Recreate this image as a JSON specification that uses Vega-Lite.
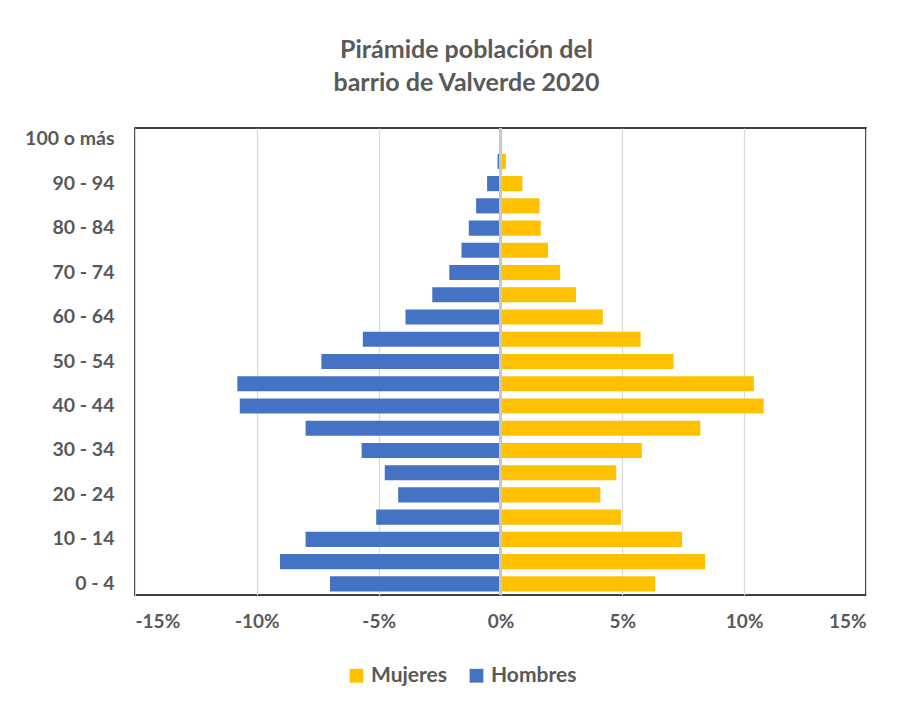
{
  "$schema": "https://vega.github.io/schema/vega-lite/v6.json",
  "width": 731,
  "height": 467,
  "autosize": {"type": "none"},
  "padding": {"left": 135, "top": 128, "right": 34, "bottom": 111},
  "background": "white",
  "title": {
    "text": ["Pirámide población del", "barrio de Valverde 2020"],
    "font": "Lato",
    "fontSize": 25,
    "fontWeight": "bold",
    "color": "#595959",
    "anchor": "middle",
    "dx": -34,
    "offset": 31,
    "lineHeight": 33
  },
  "config": {
    "view": {"stroke": "#000000", "strokeWidth": 1.5},
    "font": "Lato"
  },
  "data": {
    "values": [
      {"edad": "100 o más", "sexo": "Hombres", "pct": -0.02},
      {"edad": "100 o más", "sexo": "Mujeres", "pct": 0.02},
      {"edad": "95 - 99", "sexo": "Hombres", "pct": -0.12},
      {"edad": "95 - 99", "sexo": "Mujeres", "pct": 0.22},
      {"edad": "90 - 94", "sexo": "Hombres", "pct": -0.55},
      {"edad": "90 - 94", "sexo": "Mujeres", "pct": 0.9},
      {"edad": "85 - 89", "sexo": "Hombres", "pct": -1.0},
      {"edad": "85 - 89", "sexo": "Mujeres", "pct": 1.6},
      {"edad": "80 - 84", "sexo": "Hombres", "pct": -1.3},
      {"edad": "80 - 84", "sexo": "Mujeres", "pct": 1.65},
      {"edad": "75 - 79", "sexo": "Hombres", "pct": -1.6},
      {"edad": "75 - 79", "sexo": "Mujeres", "pct": 1.95},
      {"edad": "70 - 74", "sexo": "Hombres", "pct": -2.1},
      {"edad": "70 - 74", "sexo": "Mujeres", "pct": 2.45},
      {"edad": "65 - 69", "sexo": "Hombres", "pct": -2.8},
      {"edad": "65 - 69", "sexo": "Mujeres", "pct": 3.1},
      {"edad": "60 - 64", "sexo": "Hombres", "pct": -3.9},
      {"edad": "60 - 64", "sexo": "Mujeres", "pct": 4.2},
      {"edad": "55 - 59", "sexo": "Hombres", "pct": -5.65},
      {"edad": "55 - 59", "sexo": "Mujeres", "pct": 5.75},
      {"edad": "50 - 54", "sexo": "Hombres", "pct": -7.35},
      {"edad": "50 - 54", "sexo": "Mujeres", "pct": 7.1},
      {"edad": "45 - 49", "sexo": "Hombres", "pct": -10.8},
      {"edad": "45 - 49", "sexo": "Mujeres", "pct": 10.4},
      {"edad": "40 - 44", "sexo": "Hombres", "pct": -10.7},
      {"edad": "40 - 44", "sexo": "Mujeres", "pct": 10.8},
      {"edad": "35 - 39", "sexo": "Hombres", "pct": -8.0},
      {"edad": "35 - 39", "sexo": "Mujeres", "pct": 8.2},
      {"edad": "30 - 34", "sexo": "Hombres", "pct": -5.7},
      {"edad": "30 - 34", "sexo": "Mujeres", "pct": 5.8},
      {"edad": "25 - 29", "sexo": "Hombres", "pct": -4.75},
      {"edad": "25 - 29", "sexo": "Mujeres", "pct": 4.75},
      {"edad": "20 - 24", "sexo": "Hombres", "pct": -4.2},
      {"edad": "20 - 24", "sexo": "Mujeres", "pct": 4.1},
      {"edad": "15 - 19", "sexo": "Hombres", "pct": -5.1},
      {"edad": "15 - 19", "sexo": "Mujeres", "pct": 4.95},
      {"edad": "10 - 14", "sexo": "Hombres", "pct": -8.0},
      {"edad": "10 - 14", "sexo": "Mujeres", "pct": 7.45},
      {"edad": "5 - 9", "sexo": "Hombres", "pct": -9.05},
      {"edad": "5 - 9", "sexo": "Mujeres", "pct": 8.4},
      {"edad": "0 - 4", "sexo": "Hombres", "pct": -7.0},
      {"edad": "0 - 4", "sexo": "Mujeres", "pct": 6.35}
    ]
  },
  "layer": [
    {
      "mark": {"type": "bar"},
      "encoding": {
        "y": {
          "field": "edad",
          "type": "nominal",
          "sort": ["100 o más","95 - 99","90 - 94","85 - 89","80 - 84","75 - 79","70 - 74","65 - 69","60 - 64","55 - 59","50 - 54","45 - 49","40 - 44","35 - 39","30 - 34","25 - 29","20 - 24","15 - 19","10 - 14","5 - 9","0 - 4"],
          "scale": {"paddingInner": 0.32, "paddingOuter": 0.16},
          "axis": {
            "title": null,
            "values": ["100 o más","90 - 94","80 - 84","70 - 74","60 - 64","50 - 54","40 - 44","30 - 34","20 - 24","10 - 14","0 - 4"],
            "ticks": false,
            "domain": false,
            "labelFont": "Lato",
            "labelFontSize": 19.5,
            "labelFontWeight": "bold",
            "labelColor": "#595959",
            "labelPadding": 21
          }
        },
        "x": {
          "field": "pct",
          "type": "quantitative",
          "scale": {"domain": [-15, 15], "nice": false},
          "axis": {
            "title": null,
            "values": [-15, -10, -5, 0, 5, 10, 15],
            "labelExpr": "datum.value + '%'",
            "ticks": false,
            "domain": false,
            "grid": true,
            "gridColor": "#D9D9D9",
            "gridWidth": 1.2,
            "labelFont": "Lato",
            "labelFontSize": 19,
            "labelFontWeight": "bold",
            "labelColor": "#595959",
            "labelPadding": 17
          }
        },
        "color": {
          "field": "sexo",
          "type": "nominal",
          "scale": {"domain": ["Mujeres", "Hombres"], "range": ["#FFC000", "#4472C4"]},
          "legend": {
            "title": null,
            "orient": "none",
            "direction": "horizontal",
            "legendX": 211,
            "legendY": 537,
            "symbolType": "square",
            "symbolSize": 190,
            "symbolStrokeWidth": 0,
            "labelFont": "Lato",
            "labelFontSize": 21,
            "labelFontWeight": "bold",
            "labelColor": "#595959",
            "columnPadding": 18,
            "labelOffset": 4
          }
        }
      }
    },
    {
      "mark": {"type": "rule", "color": "#C8C8C8", "strokeWidth": 2},
      "encoding": {"x": {"datum": 0}}
    }
  ]
}
